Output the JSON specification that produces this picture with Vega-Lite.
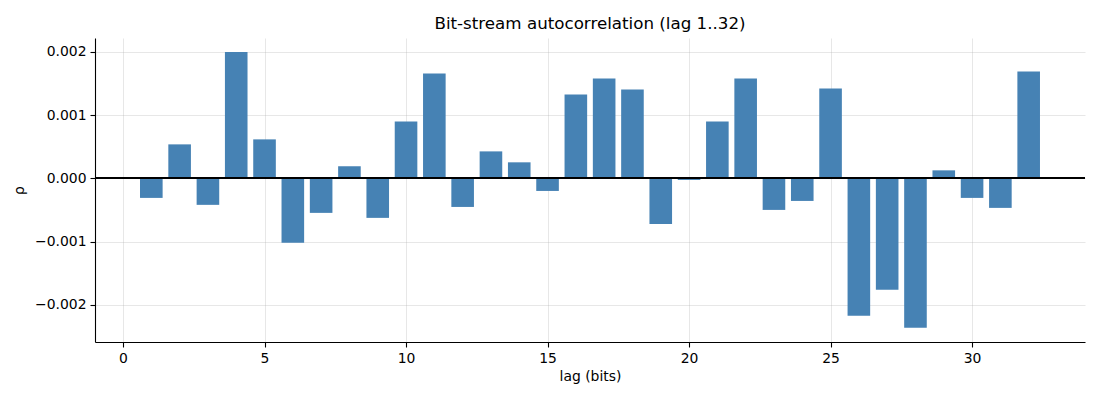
{
  "$schema": "https://vega.github.io/schema/vega-lite/v6.json",
  "autosize": {"type": "none"},
  "width": 990,
  "height": 304,
  "padding": {"left": 95, "top": 38, "right": 15, "bottom": 58},
  "background": "white",
  "config": {
    "font": "DejaVu Sans",
    "view": {"stroke": null},
    "axis": {
      "labelFont": "DejaVu Sans",
      "titleFont": "DejaVu Sans",
      "labelFontSize": 13.9,
      "titleFontSize": 13.9,
      "titleFontWeight": "normal",
      "labelColor": "black",
      "titleColor": "black",
      "domainColor": "black",
      "domainWidth": 1.1,
      "tickColor": "black",
      "tickWidth": 1.1,
      "tickSize": 5,
      "labelPadding": 4,
      "gridColor": "#b0b0b0",
      "gridOpacity": 0.3,
      "gridWidth": 1
    }
  },
  "title": {
    "text": "Bit-stream autocorrelation (lag 1..32)",
    "fontSize": 16.7,
    "fontWeight": "normal",
    "font": "DejaVu Sans",
    "color": "black",
    "offset": 5
  },
  "data": {
    "values": [
      {"lag": 1, "rho": -0.00031},
      {"lag": 2, "rho": 0.000537},
      {"lag": 3, "rho": -0.00042},
      {"lag": 4, "rho": 0.002},
      {"lag": 5, "rho": 0.000616},
      {"lag": 6, "rho": -0.00102},
      {"lag": 7, "rho": -0.000547},
      {"lag": 8, "rho": 0.00019},
      {"lag": 9, "rho": -0.000626},
      {"lag": 10, "rho": 0.0009},
      {"lag": 11, "rho": 0.001658},
      {"lag": 12, "rho": -0.000453},
      {"lag": 13, "rho": 0.000426},
      {"lag": 14, "rho": 0.000253},
      {"lag": 15, "rho": -0.0002},
      {"lag": 16, "rho": 0.001326},
      {"lag": 17, "rho": 0.001579},
      {"lag": 18, "rho": 0.001405},
      {"lag": 19, "rho": -0.000721},
      {"lag": 20, "rho": -0.000026},
      {"lag": 21, "rho": 0.0009},
      {"lag": 22, "rho": 0.001579},
      {"lag": 23, "rho": -0.0005},
      {"lag": 24, "rho": -0.000358},
      {"lag": 25, "rho": 0.001421},
      {"lag": 26, "rho": -0.002174},
      {"lag": 27, "rho": -0.001763},
      {"lag": 28, "rho": -0.002363},
      {"lag": 29, "rho": 0.000126},
      {"lag": 30, "rho": -0.00031},
      {"lag": 31, "rho": -0.000468},
      {"lag": 32, "rho": 0.00169}
    ]
  },
  "layer": [
    {
      "mark": {"type": "bar", "color": "#4682b4", "width": 22.6},
      "encoding": {
        "x": {
          "field": "lag",
          "type": "quantitative",
          "scale": {"domain": [-0.99, 33.99], "nice": false, "zero": false, "padding": 0},
          "axis": {
            "title": "lag (bits)",
            "values": [0, 5, 10, 15, 20, 25, 30],
            "titlePadding": 5
          }
        },
        "y": {
          "field": "rho",
          "type": "quantitative",
          "scale": {"domain": [-0.00259, 0.00222], "nice": false},
          "axis": {
            "title": "ρ",
            "values": [-0.002, -0.001, 0, 0.001, 0.002],
            "format": ".3f",
            "titlePadding": 8
          }
        }
      }
    },
    {
      "mark": {"type": "rule", "color": "black", "strokeWidth": 0.8},
      "encoding": {"y": {"datum": 0}}
    }
  ]
}
